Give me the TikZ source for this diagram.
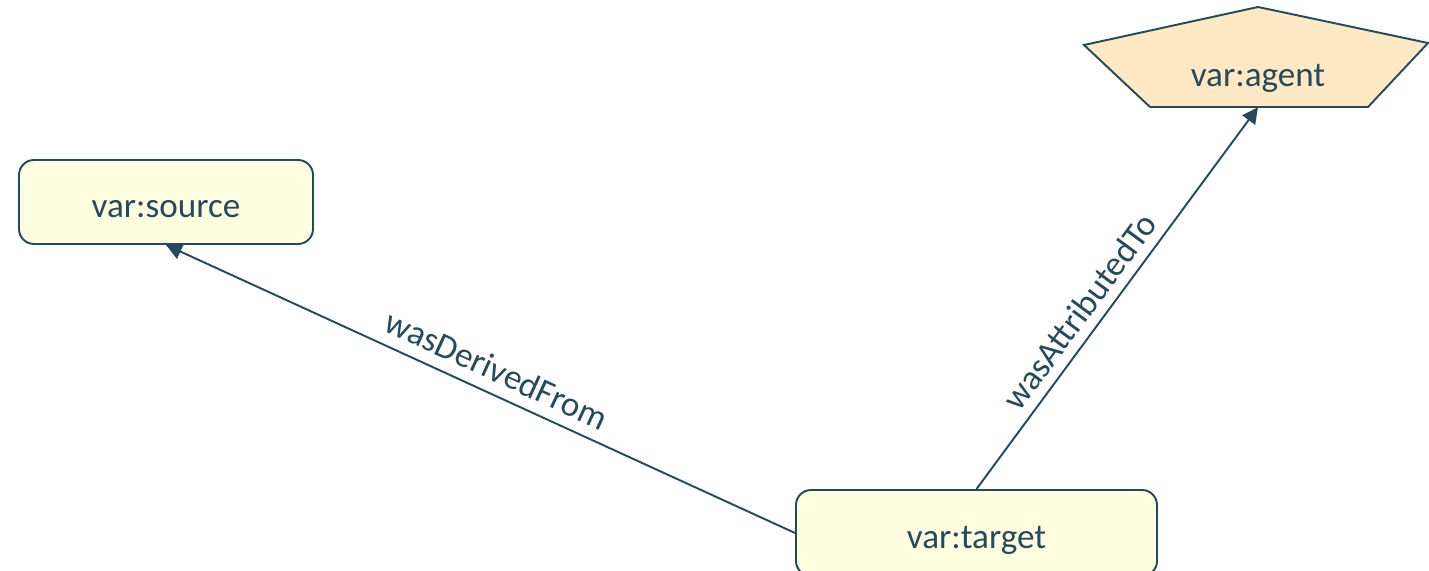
\documentclass[tikz,border=0pt]{standalone}
\usepackage{fontspec}
\setmainfont{Carlito}
\usetikzlibrary{arrows.meta}
\definecolor{provline}{HTML}{244B5D}
\definecolor{entityfill}{HTML}{FFFDE0}
\definecolor{agentfill}{HTML}{FFE9C4}
\tikzset{
	entity/.style={draw=provline, fill=entityfill, line width=1.1pt, rounded corners=0.3cm, text=provline, font=\fontsize{20}{24}\selectfont, text height=1.75em, text depth=0pt},
	agenttext/.style={text=provline, font=\fontsize{20}{24}\selectfont, minimum height=1.4cm, inner sep=0pt, text height=1.6em, text depth=0pt},
	relation/.style={draw=provline, line width=1.1pt, -{Triangle[length=9pt,width=9pt]}},
	rellabel/.style={text=provline, font=\fontsize{20}{24}\selectfont, sloped}
}
\begin{document}
\begin{tikzpicture}
	\useasboundingbox (0,0) rectangle (28.58,11.4);
	\draw (3.32,7.36) node[entity, minimum width=5.88cm, minimum height=1.68cm](source){var:source};
	\draw (19.53,0.74) node[entity, minimum width=7.22cm, minimum height=1.72cm](target){var:target};
	\fill[agentfill, draw=provline, line width=1.1pt] (25.16,11.26) -- (28.56,10.54) -- (27.36,9.26) -- (23.0,9.26) -- (21.68,10.5) -- cycle;
	\draw (25.16,9.96) node[agenttext](agent){var:agent};
	\draw[relation] (target.west) -- node[rellabel, above=3pt, pos=0.49]{wasDerivedFrom} (source.south);
	\draw[relation] (target.north) -- node[rellabel, above=2pt, pos=0.43]{wasAttributedTo} (agent.south);
	\end{tikzpicture}
\end{document}
